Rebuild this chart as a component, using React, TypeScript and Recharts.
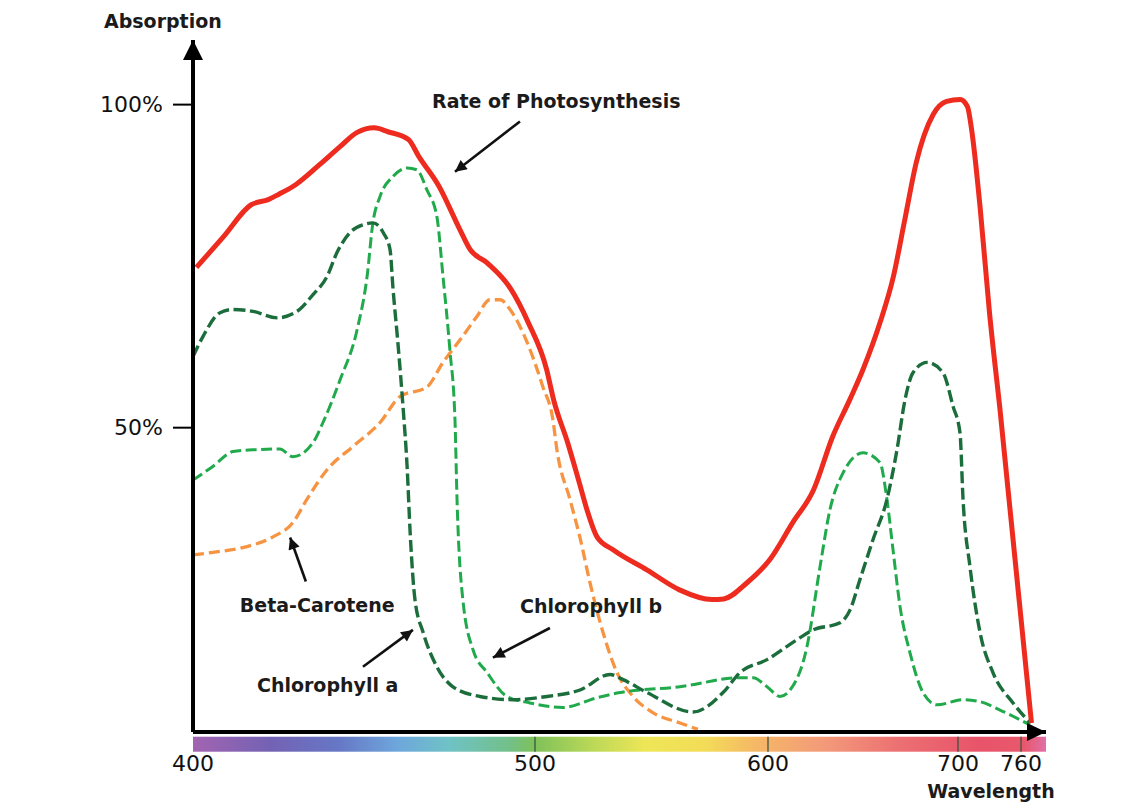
import React from 'react';
import { LineChart, Line, XAxis, YAxis, ReferenceArea, ReferenceLine, ReferenceDot } from 'recharts';

// ---------- data ----------
const tickWavelengths = [400, 500, 600, 700, 760];
const tickLabels = ['400', '500', '600', '700', '760'];
const yTicks = [50, 100];

// [wavelength (nm), absorption (%)]
const photosynthesis: [number, number][] = [
  [401, 74.8], [409, 79.6], [417, 84.5], [422, 85.3], [425, 86.1], [430, 87.6], [437, 90.7],
  [443, 93.5], [448, 95.7], [453, 96.4], [457, 95.8], [463, 94.6], [466, 92.0], [472, 87.3],
  [478, 80.7], [481, 77.6], [486, 75.5], [493, 71.4], [498, 66.3], [505, 59.0], [508, 54.3],
  [514, 47.7], [519, 41.5], [522.3, 37.3], [526.6, 33.1], [533.5, 31.1], [548, 28.0], [562, 24.9],
  [576, 23.4], [581, 23.5], [591, 26.0], [601, 29.6], [613, 35.3], [624, 40.4], [634, 48.6],
  [643, 54.3], [650, 59.0], [659, 66.3], [666, 73.4], [672, 82.2], [678, 91.0], [687, 98.5],
  [694, 100.5], [702, 100.8], [709, 99.7], [713, 96.1], [721, 84.2], [730, 67.8], [740, 52.8],
  [770, 4.3],
];

const chlorophyllA: [number, number][] = [
  [400, 61.0], [402.9, 64.1], [407.9, 67.8], [411.7, 68.3], [417.5, 68.0], [424.6, 67.0],
  [430.4, 68.0], [435.1, 70.6], [439.2, 73.4], [442.1, 77.1], [445.9, 80.2], [449.7, 81.4],
  [452.6, 81.7], [455.6, 80.2], [457.6, 77.6], [458.5, 71.4], [459.9, 63.2], [461.4, 53.3],
  [462.6, 44.0], [463.5, 33.7], [464.9, 23.4], [467.3, 18.3], [471.3, 13.0], [476.0, 9.9],
  [483.9, 8.4], [493.6, 7.9], [505.2, 8.4], [519.3, 9.4], [532.2, 11.8], [537.8, 11.0],
  [548.1, 9.0], [567.8, 6.0], [580.7, 9.0], [588.0, 12.1], [599.6, 14.1], [615.3, 17.2],
  [623.7, 18.7], [637.9, 19.8], [643.2, 21.8], [648.4, 26.5], [655.3, 32.7], [662.6, 38.9],
  [667.9, 46.6], [672.1, 54.3], [676.3, 58.5], [683.7, 60.1], [692.1, 58.5], [697.4, 53.3],
  [701.9, 49.2], [704.8, 38.9], [711.4, 28.5], [721.0, 18.3], [733.3, 12.1], [752.4, 7.4],
  [768.6, 4.3],
];

const chlorophyllB: [number, number][] = [
  [400, 41.9], [405.8, 44.0], [411.7, 46.3], [418.7, 46.6], [425.4, 46.7], [429.2, 45.5],
  [435.1, 47.7], [438.0, 50.8], [443.0, 57.4], [448.0, 65.2], [450.9, 73.4], [452.6, 81.7],
  [454.7, 85.8], [458.5, 88.9], [462.6, 90.2], [465.5, 89.9], [468.4, 86.8], [471.3, 82.7],
  [473.1, 73.4], [475.1, 62.1], [476.6, 51.2], [477.2, 38.9], [478.9, 23.4], [481.9, 15.6],
  [486.0, 12.1], [491.8, 8.4], [498.5, 7.4], [512.0, 6.7], [526.6, 8.2], [536.5, 9.0],
  [562.2, 9.9], [588.0, 11.3], [593.6, 11.3], [599.6, 9.9], [606.3, 8.4], [611.6, 9.4],
  [620.5, 16.1], [627.4, 28.5], [632.6, 37.3], [639.5, 43.0], [650.0, 46.1], [658.9, 44.6],
  [662.6, 38.9], [665.8, 31.1], [669.5, 22.3], [674.7, 15.2], [681.6, 9.0], [688.9, 7.1],
  [704.8, 7.9], [721.0, 7.6], [740.0, 6.3], [768.6, 4.0],
];

const betaCarotene: [number, number][] = [
  [400, 30.3], [405.8, 30.7], [415.8, 31.6], [423.4, 33.1], [429.2, 35.3], [433.3, 38.9],
  [439.2, 43.5], [446.8, 47.1], [454.7, 50.8], [460.5, 54.8], [468.4, 56.3], [473.1, 60.1],
  [478.1, 63.6], [483.0, 67.2], [486.8, 69.8], [489.8, 69.8], [492.7, 68.3], [497.7, 63.2],
  [503.4, 56.3], [507.7, 51.2], [509.4, 46.6], [515.0, 38.9], [519.3, 33.0], [523.6, 26.0],
  [529.2, 18.3], [535.2, 12.1], [542.1, 8.4], [550.6, 5.9], [562.2, 4.3], [569.9, 3.3],
];

// ---------- layout (hand-drawn, non-uniform wavelength axis) ----------
const AXIS_STOPS = [0, 342, 575, 765, 828]; // axis positions of the tick wavelengths
const AXIS_END = 853;
const Y_MIN = 2.9;
const Y_MAX = 110;
const BAR_TOP = 2.17;
const BAR_BOTTOM = -0.15;

function wlToPos(w: number): number {
  const n = tickWavelengths.length;
  let i = 0;
  if (w >= tickWavelengths[n - 1]) i = n - 2;
  else if (w > tickWavelengths[0]) {
    while (w > tickWavelengths[i + 1]) i++;
  }
  const w0 = tickWavelengths[i];
  const w1 = tickWavelengths[i + 1];
  const p0 = AXIS_STOPS[i];
  const p1 = AXIS_STOPS[i + 1];
  return p0 + ((w - w0) * (p1 - p0)) / (w1 - w0);
}

const toSeries = (pts: [number, number][]) => pts.map(([w, v]) => ({ x: wlToPos(w), y: v }));

const spectrumStops: [number, string][] = [
  [0, '#a264b1'], [0.09, '#7462b4'], [0.17, '#6677c5'], [0.24, '#6ea7dc'], [0.3, '#6fc2c6'],
  [0.37, '#72c08a'], [0.4, '#7ec15a'], [0.47, '#bcd957'], [0.53, '#eee657'], [0.6, '#f3dc58'],
  [0.66, '#f5b866'], [0.74, '#f39a7a'], [0.83, '#ec6f72'], [0.92, '#e8546a'], [0.975, '#e8586c'],
  [1, '#e070a8'],
];

const annotations = [
  { text: 'Rate of Photosynthesis', wl: 469.9, v: 100.6, from: [495.6, 97.4], to: [476.6, 89.6] },
  { text: 'Beta-Carotene', wl: 413.7, v: 22.5, from: [433.0, 26.2], to: [428.4, 33.0] },
  { text: 'Chlorophyll a', wl: 418.7, v: 10.2, from: [449.7, 13.0], to: [464.3, 18.7] },
  { text: 'Chlorophyll b', wl: 495.6, v: 22.4, from: [506.4, 19.0], to: [487.7, 14.4] },
];

const FONT = "'DejaVu Sans', Verdana, sans-serif";

const SpectrumShape = (props: any) => {
  const { x, y, width, height } = props;
  return (
    <g>
      <defs>
        <linearGradient id="spectrumGrad" x1="0" y1="0" x2="1" y2="0">
          {spectrumStops.map(([o, c]) => (
            <stop key={o} offset={o} stopColor={c} />
          ))}
        </linearGradient>
        <marker id="annotArrow" viewBox="0 0 10 10" refX="10" refY="5" markerWidth="5" markerHeight="4.5"
          orient="auto" markerUnits="strokeWidth">
          <path d="M0,0 L10,5 L0,10 z" fill="#111" />
        </marker>
      </defs>
      <rect x={x} y={y} width={width} height={height} fill="url(#spectrumGrad)" />
    </g>
  );
};

const ArrowLine = (props: any) => (
  <line x1={props.x1} y1={props.y1} x2={props.x2} y2={props.y2} stroke="#111" strokeWidth={2.6}
    markerEnd="url(#annotArrow)" />
);

export default function App() {
  return (
    <div style={{ position: 'absolute', left: 0, top: 0, width: 1140, height: 807, background: '#fff', fontFamily: FONT }}>
      <LineChart width={1140} height={807} margin={{ top: 40, right: 94, bottom: 15, left: 113 }}>
        <XAxis
          type="number"
          dataKey="x"
          domain={[0, AXIS_END]}
          ticks={AXIS_STOPS}
          allowDataOverflow
          tickFormatter={(v: number) => tickLabels[AXIS_STOPS.indexOf(v)] ?? ''}
          tickLine={false}
          tickSize={20}
          tickMargin={3}
          height={60}
          axisLine={{ stroke: '#000', strokeWidth: 4 }}
          tick={{ fontSize: 22, fontFamily: FONT, fill: '#111' }}
        />
        <YAxis
          type="number"
          domain={[Y_MIN, Y_MAX]}
          ticks={yTicks}
          allowDataOverflow
          tickFormatter={(v: number) => `${v}%`}
          width={80}
          tickSize={20}
          tickMargin={10}
          axisLine={{ stroke: '#000', strokeWidth: 4 }}
          tickLine={{ stroke: '#000', strokeWidth: 2 }}
          tick={{ fontSize: 22, fontFamily: FONT, fill: '#111' }}
        />

        <ReferenceArea x1={0} x2={AXIS_END} y1={BAR_BOTTOM} y2={BAR_TOP} ifOverflow="visible" shape={SpectrumShape} />
        {AXIS_STOPS.slice(1).map((p) => (
          <ReferenceLine key={p} segment={[{ x: p, y: BAR_BOTTOM }, { x: p, y: BAR_TOP }]} ifOverflow="visible"
            stroke="#3b5540" strokeWidth={1.3} />
        ))}

        <Line data={toSeries(betaCarotene)} dataKey="y" type="monotone" stroke="#f79442" strokeWidth={3.3}
          strokeDasharray="11 5" dot={false} activeDot={false} isAnimationActive={false} />
        <Line data={toSeries(chlorophyllB)} dataKey="y" type="monotone" stroke="#20aa4c" strokeWidth={3}
          strokeDasharray="11 4.5" dot={false} activeDot={false} isAnimationActive={false} />
        <Line data={toSeries(chlorophyllA)} dataKey="y" type="monotone" stroke="#1b6d3c" strokeWidth={3.4}
          strokeDasharray="12 4.5" dot={false} activeDot={false} isAnimationActive={false} />
        <Line data={toSeries(photosynthesis)} dataKey="y" type="monotone" stroke="#ee2b1f" strokeWidth={5}
          dot={false} activeDot={false} isAnimationActive={false} />

        {annotations.map((a) => (
          <ReferenceLine key={a.text + '-arrow'} ifOverflow="visible"
            segment={[{ x: wlToPos(a.from[0]), y: a.from[1] }, { x: wlToPos(a.to[0]), y: a.to[1] }]}
            shape={ArrowLine} />
        ))}
        {annotations.map((a) => (
          <ReferenceDot key={a.text} x={wlToPos(a.wl)} y={a.v} r={0} ifOverflow="visible"
            shape={(p: any) => (
              <text x={p.cx} y={p.cy} dy="0.36em" textAnchor="start" fontSize={19} fontWeight="bold"
                fontFamily={FONT} fill="#1b1b1b">{a.text}</text>
            )} />
        ))}

        <ReferenceDot x={wlToPos(391.2)} y={112.9} r={0} ifOverflow="visible"
          shape={(p: any) => (
            <text x={p.cx} y={p.cy} dy="0.36em" textAnchor="middle" fontSize={19} fontWeight="bold"
              fontFamily={FONT} fill="#1b1b1b">Absorption</text>
          )} />
        <ReferenceDot x={wlToPos(731.4)} y={-6.3} r={0} ifOverflow="visible"
          shape={(p: any) => (
            <text x={p.cx} y={p.cy} dy="0.36em" textAnchor="middle" fontSize={19} fontWeight="bold"
              fontFamily={FONT} fill="#1b1b1b">Wavelength</text>
          )} />

        <ReferenceDot x={0} y={Y_MAX} r={0} ifOverflow="visible"
          shape={(p: any) => (
            <polygon points={`${p.cx},${p.cy} ${p.cx - 10},${p.cy + 20} ${p.cx + 10},${p.cy + 20}`} fill="#000" />
          )} />
        <ReferenceDot x={AXIS_END} y={Y_MIN} r={0} ifOverflow="visible"
          shape={(p: any) => (
            <polygon points={`${p.cx},${p.cy} ${p.cx - 19},${p.cy - 9} ${p.cx - 19},${p.cy + 9}`} fill="#000" />
          )} />
      </LineChart>
    </div>
  );
}
